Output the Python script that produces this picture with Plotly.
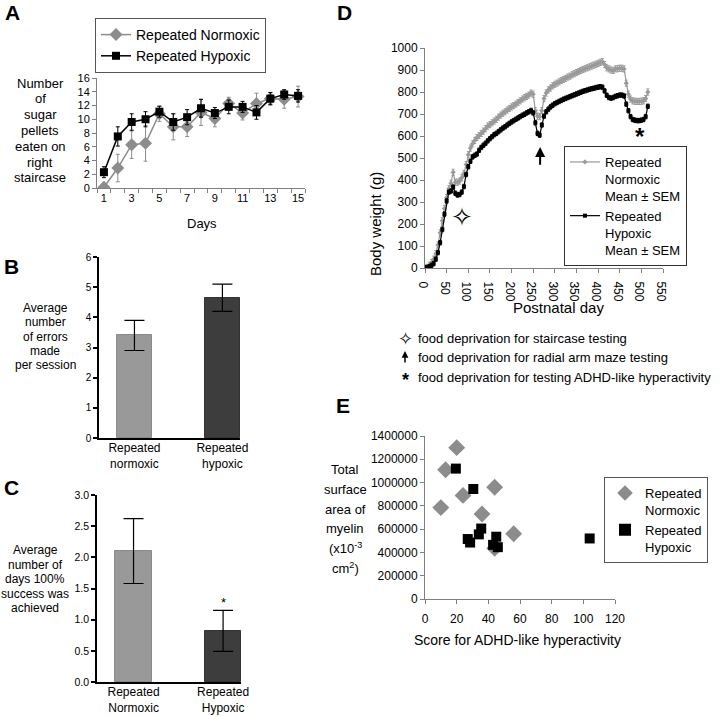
import plotly.graph_objects as go

W, H = 720, 716
FONT = "Arial, Liberation Sans, sans-serif"
GRAY_AX = "#808080"

# ---- Panel A: staircase test, pellets eaten per day ----
days_a = list(range(1, 16))
norm_a = [0.1, 2.9, 6.3, 6.5, 10.8, 8.9, 8.9, 11.0, 10.1, 12.3, 10.9, 12.3, 13.0, 12.9, 13.3]
norm_a_err = [0.3, 2.0, 2.0, 2.6, 1.1, 1.9, 1.4, 1.9, 1.2, 0.9, 1.0, 1.5, 0.9, 1.3, 1.5]
hyp_a = [2.3, 7.5, 9.6, 10.0, 11.1, 9.6, 10.3, 11.6, 10.9, 11.8, 11.8, 11.0, 13.0, 13.6, 13.4]
hyp_a_err = [0.8, 1.4, 1.2, 1.1, 0.8, 1.2, 1.1, 1.3, 0.8, 1.0, 0.8, 1.0, 0.9, 0.7, 0.9]

# ---- Panel B: radial arm maze errors ----
groups_b = ["Repeated<br>normoxic", "Repeated<br>hypoxic"]
errors_b = [3.4, 4.65]
errors_b_sem = [0.5, 0.45]

# ---- Panel C: days with 100% success ----
groups_c = ["Repeated<br>Normoxic", "Repeated<br>Hypoxic"]
days_c = [2.1, 0.82]
days_c_sem = [0.52, 0.33]

# ---- Panel D: body weight over postnatal days ----
day_d = list(range(0, 520, 5))
norm_d = [0, 3, 12, 25, 40, 65, 105, 160, 215, 270, 320, 360, 385, 435, 390, 390,
          395, 410, 430, 470, 515, 545, 565, 580, 593, 602, 612, 622, 633, 645,
          652, 660, 668, 676, 686, 695, 703, 710, 718, 725, 732, 738, 745, 752,
          760, 768, 774, 780, 786, 795, 790, 715, 690, 688, 715, 770, 795, 810,
          818, 828, 835, 840, 846, 852, 857, 862, 868, 872, 878, 883, 888, 893,
          898, 902, 906, 910, 914, 918, 922, 926, 930, 935, 938, 925, 910, 905,
          900, 898, 905, 906, 908, 908, 905, 840, 790, 768, 760, 758, 757, 757,
          758, 760, 770, 800]
hyp_d = [0, 2, 6, 12, 20, 40, 70, 115, 175, 245, 305, 345, 350, 368, 340, 332,
         334, 345, 370, 425, 460, 485, 505, 512, 518, 535, 548, 558, 567, 578,
         588, 597, 606, 612, 620, 628, 636, 642, 650, 657, 664, 670, 676, 682,
         688, 694, 699, 705, 710, 716, 705, 660, 612, 604, 650, 690, 710, 722,
         732, 740, 747, 752, 757, 762, 767, 771, 775, 779, 783, 787, 791, 795,
         799, 803, 806, 809, 812, 815, 817, 820, 822, 824, 822, 805, 785, 775,
         772, 775, 780, 783, 786, 786, 782, 745, 715, 688, 675, 672, 670, 670,
         672, 675, 688, 735]
sem_norm_d = 14
sem_hyp_d = 10

# ---- Panel E: myelin area vs ADHD-like hyperactivity ----
norm_e_x = [20, 13, 10, 24, 44, 36, 56, 44]
norm_e_y = [1300000, 1110000, 785000, 890000, 960000, 730000, 560000, 435000]
hyp_e_x = [19.5, 30.5, 27, 28.5, 34, 35.5, 45, 43, 46, 104]
hyp_e_y = [1120000, 945000, 515000, 485000, 555000, 605000, 535000, 465000, 445000, 520000]


def px(x):
    return x / W


def py(y):
    return 1 - y / H


fig = go.Figure()

# A
fig.add_trace(go.Scatter(
    x=days_a, y=norm_a, mode="lines+markers", name="Repeated Normoxic",
    line=dict(color="#8c8c8c", width=1.5),
    marker=dict(symbol="diamond", size=10, color="#8c8c8c"),
    error_y=dict(type="data", array=norm_a_err, color="#8c8c8c", thickness=1, width=2),
    xaxis="x", yaxis="y", legend="legend",
))
fig.add_trace(go.Scatter(
    x=days_a, y=hyp_a, mode="lines+markers", name="Repeated Hypoxic",
    line=dict(color="black", width=1.5),
    marker=dict(symbol="square", size=8, color="black"),
    error_y=dict(type="data", array=hyp_a_err, color="black", thickness=1, width=2),
    xaxis="x", yaxis="y", legend="legend",
))

# B
fig.add_trace(go.Bar(
    x=[0, 1], y=errors_b, width=0.4,
    marker=dict(color=["#999999", "#3d3d3d"], line=dict(color=["#8a8a8a", "#333333"], width=1)),
    error_y=dict(type="data", array=errors_b_sem, color="black", thickness=1.2, width=10),
    xaxis="x2", yaxis="y2", showlegend=False,
))

# C
fig.add_trace(go.Bar(
    x=[0, 1], y=days_c, width=0.41,
    marker=dict(color=["#999999", "#3d3d3d"], line=dict(color=["#8a8a8a", "#333333"], width=1)),
    error_y=dict(type="data", array=days_c_sem, color="black", thickness=1.2, width=10),
    xaxis="x3", yaxis="y3", showlegend=False,
))

# D
fig.add_trace(go.Scatter(
    x=day_d, y=norm_d, mode="lines+markers",
    name="Repeated<br>Normoxic<br>Mean ± SEM",
    line=dict(color="#9a9a9a", width=1.2),
    marker=dict(symbol="diamond", size=4, color="#9a9a9a"),
    error_y=dict(type="constant", value=sem_norm_d, color="#9a9a9a", thickness=1, width=1.5),
    xaxis="x4", yaxis="y4", legend="legend2",
))
fig.add_trace(go.Scatter(
    x=day_d, y=hyp_d, mode="lines+markers",
    name="Repeated<br>Hypoxic<br>Mean ± SEM",
    line=dict(color="black", width=1.2),
    marker=dict(symbol="square", size=4, color="black"),
    error_y=dict(type="constant", value=sem_hyp_d, color="black", thickness=1, width=1.5),
    xaxis="x4", yaxis="y4", legend="legend2",
))

# E
fig.add_trace(go.Scatter(
    x=norm_e_x, y=norm_e_y, mode="markers", name="Repeated<br>Normoxic",
    marker=dict(symbol="diamond", size=13, color="#8c8c8c"),
    xaxis="x5", yaxis="y5", legend="legend3",
))
fig.add_trace(go.Scatter(
    x=hyp_e_x, y=hyp_e_y, mode="markers", name="Repeated<br>Hypoxic",
    marker=dict(symbol="square", size=10, color="black"),
    xaxis="x5", yaxis="y5", legend="legend3",
))

tickfont = dict(family=FONT, size=11, color="black")
excel_axis = dict(showline=True, linecolor=GRAY_AX, linewidth=1, showgrid=False,
                  zeroline=False, ticks="outside", tickcolor=GRAY_AX, ticklen=4,
                  automargin=False)
prism_axis = dict(showline=True, linecolor="black", linewidth=1.5, showgrid=False,
                  zeroline=False, tickcolor="black", ticklen=4, tickwidth=1.5,
                  automargin=False)

fig.update_layout(
    width=W, height=H,
    margin=dict(l=0, r=0, t=0, b=0),
    paper_bgcolor="white", plot_bgcolor="white",
    font=dict(family=FONT, color="black"),
    bargap=0,
    xaxis=dict(excel_axis, domain=[px(97), px(305)], anchor="y", range=[0.5, 15.5],
               tickvals=[1, 3, 5, 7, 9, 11, 13, 15], ticks="", tickfont=tickfont,
               minor=dict(ticks="outside", tick0=0.5, dtick=1, ticklen=4, tickcolor=GRAY_AX)),
    yaxis=dict(excel_axis, domain=[py(188), py(78)], anchor="x", range=[0, 16],
               dtick=2, tickfont=tickfont),
    xaxis2=dict(prism_axis, domain=[px(99), px(240)], anchor="y2", range=[-0.403, 1.2],
                tickvals=[0, 1], ticktext=groups_b, ticks="", ticklabelstandoff=-2,
                tickfont=dict(family=FONT, size=12)),
    yaxis2=dict(prism_axis, domain=[py(438), py(257)], anchor="x2", range=[0, 6],
                dtick=1, ticks="outside", tickfont=dict(family=FONT, size=10)),
    xaxis3=dict(prism_axis, domain=[px(97), px(241)], anchor="y3", range=[-0.408, 1.2],
                tickvals=[0, 1], ticktext=groups_c, ticks="", ticklabelstandoff=-2,
                tickfont=dict(family=FONT, size=12)),
    yaxis3=dict(prism_axis, domain=[py(682), py(495)], anchor="x3", range=[0, 3],
                dtick=0.5, tickformat=".1f", ticks="outside",
                tickfont=dict(family=FONT, size=10.5)),
    xaxis4=dict(excel_axis, domain=[px(425), px(663)], anchor="y4", range=[0, 550],
                dtick=50, tickfont=dict(family=FONT, size=12)),
    yaxis4=dict(excel_axis, domain=[py(268), py(48)], anchor="x4", range=[0, 1000],
                dtick=100, tickfont=dict(family=FONT, size=12)),
    xaxis5=dict(excel_axis, domain=[px(425), px(615)], anchor="y5", range=[0, 120],
                dtick=20, tickfont=dict(family=FONT, size=12), ticklabelstandoff=5),
    yaxis5=dict(excel_axis, domain=[py(599), py(436)], anchor="x5", range=[0, 1400000],
                dtick=200000, tickformat="d", tickfont=dict(family=FONT, size=12)),
    legend=dict(x=px(95), y=py(18), xanchor="left", yanchor="top",
                bordercolor="#555555", borderwidth=1, bgcolor="white",
                font=dict(family=FONT, size=14), tracegroupgap=0),
    legend2=dict(x=px(564), y=py(146), xanchor="left", yanchor="top",
                 bordercolor="#333333", borderwidth=1, bgcolor="white",
                 font=dict(family=FONT, size=13), valign="top", tracegroupgap=2),
    legend3=dict(x=px(708), y=py(477), xanchor="right", yanchor="top",
                 bordercolor="#555555", borderwidth=1, bgcolor="white",
                 font=dict(family=FONT, size=13), valign="top", tracegroupgap=8,
                 itemsizing="constant"),
)

annotations = []


def text_lines(lines, cx, y0, dy, size, bold=False):
    for i, t in enumerate(lines):
        annotations.append(dict(
            text=f"<b>{t}</b>" if bold else t, x=px(cx), y=py(y0 + i * dy),
            xref="paper", yref="paper", xanchor="center", yanchor="middle",
            showarrow=False, font=dict(family=FONT, size=size, color="black"),
        ))


# panel letters
for letter, (lx, ly) in {"A": (12, 12), "B": (11, 266), "C": (11, 487),
                         "D": (344, 12), "E": (343, 405)}.items():
    text_lines([letter], lx, ly, 0, 21, bold=True)

# axis titles
text_lines(["Number", "of", "sugar", "pellets", "eaten on", "right", "staircase"], 40, 83, 15.8, 13)
text_lines(["Days"], 202, 223, 0, 13)
text_lines(["Average", "number", "of errors", "made", "per session"], 45, 308, 14.3, 12)
text_lines(["Average", "number of", "days 100%", "success was", "achieved"], 35, 550, 14.5, 12)
text_lines(["Postnatal day"], 558, 307, 0, 15)
text_lines(["Total", "surface", "area of", "myelin", "(x10<sup>-3</sup>", "cm<sup>2</sup>)"],
           345, 470, 19.6, 13)
text_lines(["Score for ADHD-like hyperactivity"], 517, 640, 0, 14)
annotations.append(dict(
    text="Body weight (g)", x=px(375), y=py(170), xref="paper", yref="paper",
    textangle=-90, showarrow=False, font=dict(family=FONT, size=15),
))

# significance star on C
annotations.append(dict(text="*", x=1, y=1.27, xref="x3", yref="y3", showarrow=False,
                        font=dict(family=FONT, size=13)))

# food-deprivation markers on D
annotations.append(dict(text="✧", x=85, y=230, xref="x4", yref="y4", showarrow=False,
                        font=dict(family="DejaVu Sans", size=26)))
annotations.append(dict(text="", x=266, y=550, xref="x4", yref="y4",
                        ax=266, ay=462, axref="x4", ayref="y4", showarrow=True,
                        arrowhead=2, arrowsize=1, arrowwidth=2, arrowcolor="black"))
annotations.append(dict(text="<b>*</b>", x=496, y=600, xref="x4", yref="y4", showarrow=False,
                        font=dict(family=FONT, size=24)))

# footnote key
foot = ["food deprivation for staircase testing",
        "food deprivation for radial arm maze testing",
        "food deprivation for testing ADHD-like hyperactivity"]
for i, t in enumerate(foot):
    annotations.append(dict(text=t, x=px(416), y=py(338 + i * 19.5), xref="paper", yref="paper",
                            xanchor="left", yanchor="middle", showarrow=False,
                            font=dict(family=FONT, size=13)))
annotations.append(dict(text="✧", x=px(405), y=py(338), xref="paper", yref="paper",
                        showarrow=False, font=dict(family="DejaVu Sans", size=18)))
annotations.append(dict(text="", x=px(405), y=py(351), xref="paper", yref="paper",
                        ax=0, ay=13, showarrow=True, arrowhead=2, arrowsize=0.9,
                        arrowwidth=1.5, arrowcolor="black"))
annotations.append(dict(text="<b>*</b>", x=px(405), y=py(380), xref="paper", yref="paper",
                        showarrow=False, font=dict(family=FONT, size=18)))

fig.update_layout(annotations=annotations)

fig.write_html("out.html", config={"displayModeBar": False},
               post_script="document.body.style.margin='0';")
